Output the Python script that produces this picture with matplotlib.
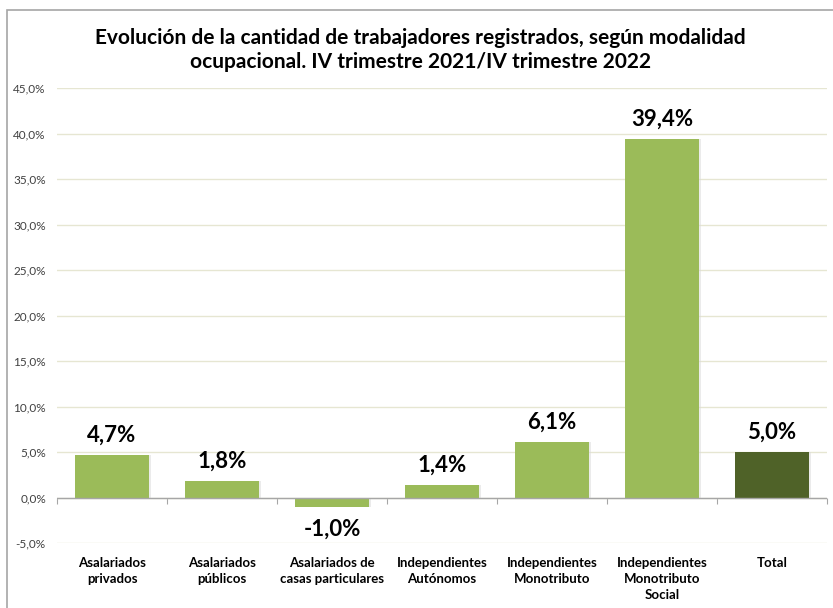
import matplotlib
matplotlib.use('Agg')
import matplotlib.pyplot as plt
import numpy as np
from matplotlib.patches import Rectangle
from matplotlib.ticker import FuncFormatter

categories = ["Asalariados\nprivados", "Asalariados\npúblicos", "Asalariados de\ncasas particulares",
              "Independientes\nAutónomos", "Independientes\nMonotributo", "Independientes\nMonotributo\nSocial",
              "Total"]
values = [4.7, 1.8, -1.0, 1.4, 6.1, 39.4, 5.0]
colors = ["#9BBB59"] * 6 + ["#4F6228"]
title = "Evolución de la cantidad de trabajadores registrados, según modalidad\nocupacional. IV trimestre 2021/IV trimestre 2022"

plt.rcParams['font.family'] = ['Lato', 'DejaVu Sans']

fig = plt.figure(figsize=(8.33, 6.08), dpi=100)
fig.patches.append(Rectangle((7 / 833, -0.1), 1.2, 1 - 10 / 608 + 0.1, transform=fig.transFigure,
                             fill=False, edgecolor='#a6a6a6', linewidth=1.2))
ax = fig.add_axes([57 / 833, 1 - 543 / 608, 770 / 833, 455 / 608])

x = np.arange(len(values))
ax.bar(x + 0.015, values, width=0.68, color='#d9d9d9', alpha=0.5, zorder=2)  # sombra leve
ax.bar(x, values, width=0.68, color=colors, zorder=3)

for xi, v in zip(x, values):
    lab = f"{v:.1f}%".replace('.', ',')
    if v >= 0:
        ax.text(xi, v + 1.0, lab, ha='center', va='bottom', fontsize=16, fontweight='bold', color='black')
    else:
        ax.text(xi, v - 1.3, lab, ha='center', va='top', fontsize=16, fontweight='bold', color='black')

ax.set_xlim(-0.5, len(values) - 0.5)
ax.set_ylim(-5, 45)
ax.set_yticks(np.arange(-5, 46, 5))
ax.yaxis.set_major_formatter(FuncFormatter(lambda v, p: f"{v:.1f}%".replace('.', ',')))
ax.tick_params(axis='y', length=0, labelsize=8.5, labelcolor='#404040', pad=8)
ax.grid(axis='y', color='#e6e6d2', linewidth=1, zorder=0)
ax.set_axisbelow(True)

ax.set_xticks(x)
ax.set_xticklabels(categories, fontsize=9.5, fontweight='bold', color='black', linespacing=1.4)
ax.tick_params(axis='x', length=0, pad=10)
for s in ax.spines.values():
    s.set_visible(False)

ax.axhline(0, color='#a6a6a6', linewidth=1, zorder=4)
sec = ax.secondary_xaxis(0.1)
sec.set_xticks(np.arange(-0.5, len(values), 1))
sec.set_xticklabels([])
sec.tick_params(axis='x', direction='out', length=4, color='#a6a6a6')
for s in sec.spines.values():
    s.set_visible(False)

fig.text(0.505, 1 - 50 / 608, title, ha='center', va='center', fontsize=15, fontweight='bold',
         color='black', linespacing=1.3)

fig.savefig('out.png', dpi=100)
